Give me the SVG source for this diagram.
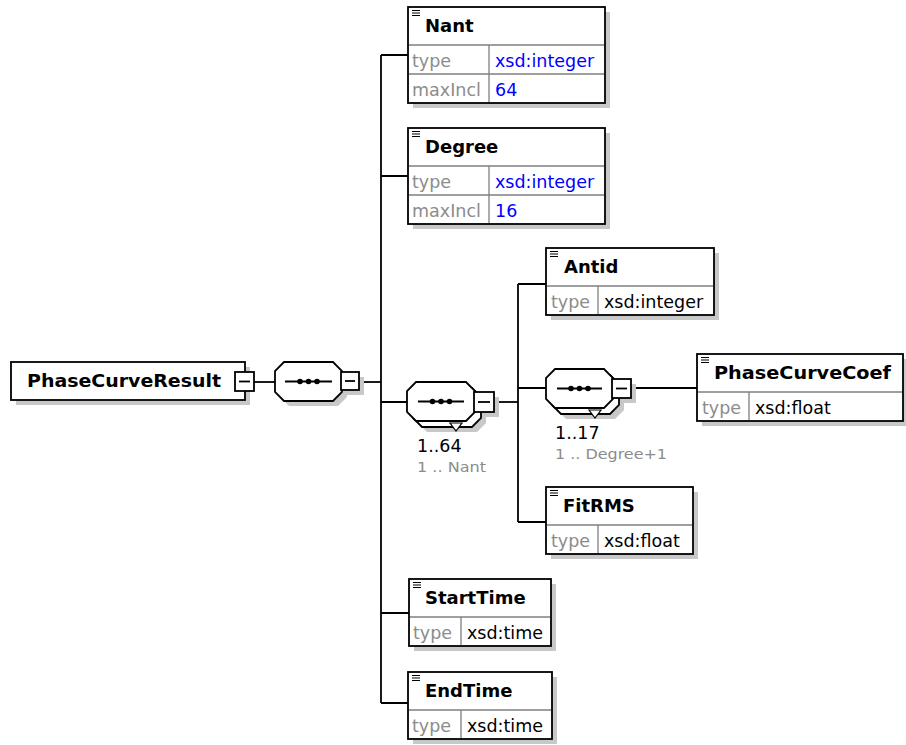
<svg xmlns="http://www.w3.org/2000/svg" xmlns:xlink="http://www.w3.org/1999/xlink" width="906" height="745" viewBox="0 0 906 745">
<style>
.bg{fill:#fff}
.box{fill:#fff;stroke:#000;stroke-width:1.8}
.sh{fill:#c8c8c8}
.sep{stroke:#808080;stroke-width:1.3}
.conn{stroke:#000;stroke-width:1.8;fill:none}
.name{font-family:"DejaVu Sans",sans-serif;font-weight:bold;font-size:18px;fill:#000}
.key{font-family:"DejaVu Sans",sans-serif;font-size:17.5px;fill:#8c8c8c}
.val{font-family:"DejaVu Sans",sans-serif;font-size:17.5px;fill:#000}
.blue{font-family:"DejaVu Sans",sans-serif;font-size:17.5px;fill:#0000ff}
.occ{font-family:"DejaVu Sans",sans-serif;font-size:17.5px;fill:#000}
.occ2{font-family:"DejaVu Sans",sans-serif;font-size:14px;fill:#8c8c8c}
.ico{stroke:#000;stroke-width:1.2}
.dot{fill:#000}
.tri{fill:#fff;stroke:#000;stroke-width:1.2}
</style>
<defs>
<g id="icon"><path class="ico" d="M0 0.5h8M0 3h8M0 5.5h8"/></g>
</defs>
<rect class="bg" x="0" y="0" width="906" height="745"/>

<g id="connectors">
<path class="conn" d="M254 382H275"/>
<path class="conn" d="M359 382H381"/>
<path class="conn" d="M381 55V703"/>
<path class="conn" d="M381 55H408M381 176H408M381 402H407M381 613H409M381 703H408"/>
<path class="conn" d="M494 402H518"/>
<path class="conn" d="M518 284V522"/>
<path class="conn" d="M518 284H546M518 388H546M518 522H546"/>
<path class="conn" d="M631 388H697"/>
</g>

<g id="PhaseCurveResult">
<rect class="sh" x="16" y="367" width="234" height="38"/>
<rect class="box" x="11" y="362" width="234" height="38"/>
<text class="name" x="27" y="387" textLength="194" lengthAdjust="spacingAndGlyphs">PhaseCurveResult</text>
<rect class="box" x="235" y="372" width="19" height="19"/>
<path class="conn" d="M239 381.5h11"/>
</g>

<g id="seq1">
<polygon class="sh" points="289,367 338,367 347,376 347,397 338,406 289,406 280,397 280,376"/>
<rect class="sh" x="346" y="377" width="18" height="18"/>
<polygon class="box" points="284,362 333,362 342,371 342,392 333,401 284,401 275,392 275,371"/>
<path class="conn" d="M285 381.5H332"/>
<circle class="dot" cx="300" cy="381.5" r="2.8"/>
<circle class="dot" cx="308.5" cy="381.5" r="2.8"/>
<circle class="dot" cx="317" cy="381.5" r="2.8"/>
<rect class="box" x="341" y="372" width="18" height="18"/>
<path class="conn" d="M345 381h10"/>
</g>

<g id="Nant">
<rect class="sh" x="413" y="12" width="197" height="96"/>
<rect class="box" x="408" y="7" width="197" height="96"/>
<path class="sep" d="M409 45H604M409 74H604M489 45V102"/>
<use xlink:href="#icon" x="412" y="10"/>
<text class="name" x="425" y="32">Nant</text>
<text class="key" x="412" y="67">type</text>
<text class="blue" x="495" y="67">xsd:integer</text>
<text class="key" x="412" y="96">maxIncl</text>
<text class="blue" x="495" y="96">64</text>
</g>

<g id="Degree">
<rect class="sh" x="413" y="133" width="197" height="96"/>
<rect class="box" x="408" y="128" width="197" height="96"/>
<path class="sep" d="M409 166H604M409 195H604M489 166V223"/>
<use xlink:href="#icon" x="412" y="131"/>
<text class="name" x="425" y="153">Degree</text>
<text class="key" x="412" y="188">type</text>
<text class="blue" x="495" y="188">xsd:integer</text>
<text class="key" x="412" y="217">maxIncl</text>
<text class="blue" x="495" y="217">16</text>
</g>

<g id="seq2">
<polygon class="sh" points="427,393 477,393 486,402 486,423 477,432 427,432 418,423 418,402"/>
<rect class="sh" x="479" y="397" width="20" height="20"/>
<polygon class="box" points="422,388 472,388 481,397 481,418 472,427 422,427 413,418 413,397"/>
<polygon class="tri" points="450,423 462,423 456,431"/>
<polygon class="box" points="416,382 466,382 475,391 475,412 466,421 416,421 407,412 407,391"/>
<path class="conn" d="M418 401.5H464"/>
<circle class="dot" cx="432.5" cy="401.5" r="2.8"/>
<circle class="dot" cx="441" cy="401.5" r="2.8"/>
<circle class="dot" cx="449.5" cy="401.5" r="2.8"/>
<rect class="box" x="474" y="392" width="20" height="20"/>
<path class="conn" d="M478 402h12"/>
<text class="occ" x="417" y="452">1..64</text>
<text class="occ2" x="417" y="472" textLength="69" lengthAdjust="spacingAndGlyphs">1 .. Nant</text>
</g>

<g id="Antid">
<rect class="sh" x="551" y="253" width="168" height="67"/>
<rect class="box" x="546" y="248" width="168" height="67"/>
<path class="sep" d="M547 286H713M598 286V314"/>
<use xlink:href="#icon" x="550" y="251"/>
<text class="name" x="564" y="273">Antid</text>
<text class="key" x="551" y="308">type</text>
<text class="val" x="604" y="308">xsd:integer</text>
</g>

<g id="seq3">
<polygon class="sh" points="566,380 615,380 624,389 624,410 615,419 566,419 557,410 557,389"/>
<rect class="sh" x="617" y="384" width="19" height="19"/>
<polygon class="box" points="561,375 610,375 619,384 619,405 610,414 561,414 552,405 552,384"/>
<polygon class="tri" points="589,410 601,410 595,418"/>
<polygon class="box" points="555,369 604,369 613,378 613,399 604,408 555,408 546,399 546,378"/>
<path class="conn" d="M557 388.5H602"/>
<circle class="dot" cx="571" cy="388.5" r="2.8"/>
<circle class="dot" cx="579.5" cy="388.5" r="2.8"/>
<circle class="dot" cx="588" cy="388.5" r="2.8"/>
<rect class="box" x="612" y="379" width="19" height="19"/>
<path class="conn" d="M616 388.5h11"/>
<text class="occ" x="555" y="439">1..17</text>
<text class="occ2" x="555" y="459" textLength="112" lengthAdjust="spacingAndGlyphs">1 .. Degree+1</text>
</g>

<g id="PhaseCurveCoef">
<rect class="sh" x="702" y="359" width="206" height="67"/>
<rect class="box" x="697" y="354" width="206" height="67"/>
<path class="sep" d="M698 392H902M749 392V420"/>
<use xlink:href="#icon" x="701" y="357"/>
<text class="name" x="714" y="379" textLength="177" lengthAdjust="spacingAndGlyphs">PhaseCurveCoef</text>
<text class="key" x="702" y="414">type</text>
<text class="val" x="755" y="414">xsd:float</text>
</g>

<g id="FitRMS">
<rect class="sh" x="551" y="492" width="147" height="67"/>
<rect class="box" x="546" y="487" width="147" height="67"/>
<path class="sep" d="M547 525H692M598 525V553"/>
<use xlink:href="#icon" x="550" y="490"/>
<text class="name" x="563" y="512">FitRMS</text>
<text class="key" x="551" y="547">type</text>
<text class="val" x="604" y="547">xsd:float</text>
</g>

<g id="StartTime">
<rect class="sh" x="414" y="584" width="142" height="67"/>
<rect class="box" x="409" y="579" width="142" height="67"/>
<path class="sep" d="M410 617H550M461 617V645"/>
<use xlink:href="#icon" x="413" y="582"/>
<text class="name" x="425" y="604">StartTime</text>
<text class="key" x="413" y="639">type</text>
<text class="val" x="467" y="639">xsd:time</text>
</g>

<g id="EndTime">
<rect class="sh" x="413" y="677" width="144" height="67"/>
<rect class="box" x="408" y="672" width="144" height="67"/>
<path class="sep" d="M409 710H551M461 710V738"/>
<use xlink:href="#icon" x="412" y="675"/>
<text class="name" x="425" y="697">EndTime</text>
<text class="key" x="412" y="732">type</text>
<text class="val" x="467" y="732">xsd:time</text>
</g>
</svg>
